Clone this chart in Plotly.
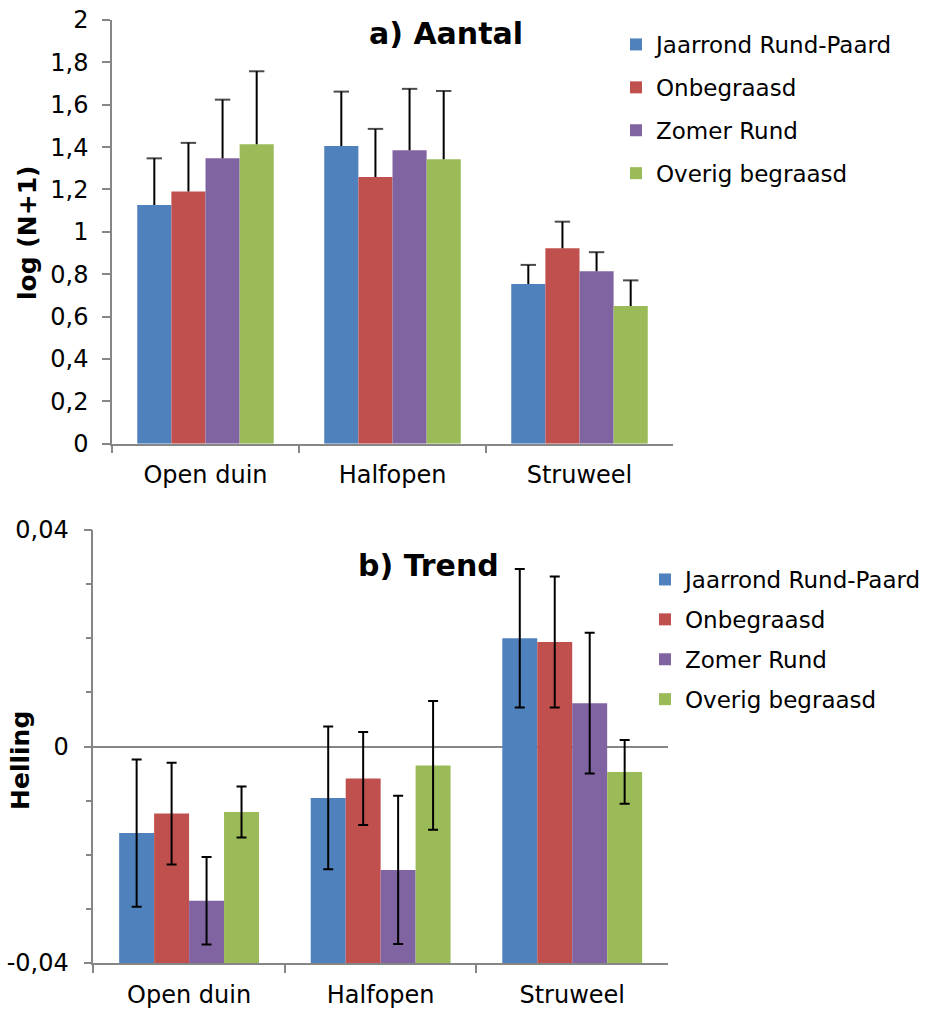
import plotly.graph_objects as go

categories = ["Open duin", "Halfopen", "Struweel"]
series = ["Jaarrond Rund-Paard", "Onbegraasd", "Zomer Rund", "Overig begraasd"]
colors = ["#4F81BD", "#C0504D", "#8064A2", "#9BBB59"]

# a) Aantal: log(N+1) and upper error
aantal = {
    "Jaarrond Rund-Paard": [1.127, 1.405, 0.754],
    "Onbegraasd": [1.19, 1.259, 0.923],
    "Zomer Rund": [1.347, 1.385, 0.814],
    "Overig begraasd": [1.413, 1.343, 0.650],
}
aantal_err = {
    "Jaarrond Rund-Paard": [0.22, 0.257, 0.09],
    "Onbegraasd": [0.23, 0.227, 0.125],
    "Zomer Rund": [0.277, 0.29, 0.09],
    "Overig begraasd": [0.345, 0.322, 0.121],
}

# b) Trend: helling and symmetric error
trend = {
    "Jaarrond Rund-Paard": [-0.016, -0.0095, 0.0200],
    "Onbegraasd": [-0.0124, -0.0059, 0.0193],
    "Zomer Rund": [-0.0285, -0.0228, 0.0080],
    "Overig begraasd": [-0.0121, -0.0035, -0.0047],
}
trend_err = {
    "Jaarrond Rund-Paard": [0.0136, 0.0132, 0.0128],
    "Onbegraasd": [0.0094, 0.0086, 0.0121],
    "Zomer Rund": [0.0081, 0.0137, 0.0130],
    "Overig begraasd": [0.0047, 0.0119, 0.0059],
}

y_ticks_a = [0, 0.2, 0.4, 0.6, 0.8, 1.0, 1.2, 1.4, 1.6, 1.8, 2.0]
y_ticks_b = [-0.04, 0, 0.04]
y_ticktext_b = ["-0,04", "0", "0,04"]
trend_base = -0.04  # horizontal axis crosses at the bottom of the range

W, H = 927, 1010
FONT = "DejaVu Sans, Verdana, sans-serif"
AX = "#868686"
GAP = 0.27

fig = go.Figure()
for i, s in enumerate(series):
    fig.add_trace(go.Bar(
        x=categories, y=aantal[s], name=s, marker_color=colors[i],
        marker_line_width=0, offsetgroup=str(i),
        xaxis="x", yaxis="y", legend="legend", legendgroup="a" + str(i),
    ))
# plus-only error bars for a): a line from bar top up to top+err with a cap
for i, s in enumerate(series):
    xs, ys, sizes = [], [], []
    for c, v, e in zip(categories, aantal[s], aantal_err[s]):
        xs += [c, c, None]
        ys += [v, v + e, None]
        sizes += [0, 11, 0]
    fig.add_trace(go.Scatter(
        x=xs, y=ys, mode="lines+markers", offsetgroup=str(i),
        line=dict(color="black", width=2),
        marker=dict(symbol="line-ew", size=sizes, color="black",
                    line=dict(color="black", width=2)),
        showlegend=False, hoverinfo="skip", xaxis="x", yaxis="y",
        connectgaps=False,
    ))
for i, s in enumerate(series):
    fig.add_trace(go.Bar(
        x=categories, y=[v - trend_base for v in trend[s]], base=trend_base,
        name=s, marker_color=colors[i], marker_line_width=0,
        error_y=dict(type="data", array=trend_err[s], color="black",
                     thickness=2, width=5),
        xaxis="x2", yaxis="y2", legend="legend2", legendgroup="b" + str(i),
    ))

def px_x(p):
    return p / W

def px_y(p):
    return 1 - p / H

axis_common = dict(showline=True, linecolor=AX, linewidth=1.5, ticks="outside",
                   tickcolor=AX, tickwidth=1.5, ticklen=8, automargin=False,
                   tickfont=dict(family=FONT, size=24, color="black"))

ann_common = dict(xref="paper", yref="paper", showarrow=False,
                  xanchor="center", yanchor="middle")

fig.update_layout(
    width=W, height=H, autosize=False,
    margin=dict(l=0, r=0, t=0, b=0, pad=0, autoexpand=False),
    paper_bgcolor="white", plot_bgcolor="white",
    separators=",.",
    barmode="group", bargap=GAP, bargroupgap=0,
    scattermode="group", scattergap=GAP,
    font=dict(family=FONT, color="black"),
    xaxis=dict(domain=[px_x(112), px_x(673)], anchor="y", type="category",
               tickson="boundaries", ticklabelstandoff=9, **axis_common),
    yaxis=dict(domain=[px_y(443.7), px_y(20)], anchor="x", range=[0, 2],
               tickvals=y_ticks_a, showgrid=False, zeroline=False,
               ticklabelstandoff=9, **axis_common),
    xaxis2=dict(domain=[px_x(93.3), px_x(668)], anchor="y2", type="category",
                tickson="boundaries", ticklabelstandoff=9, **axis_common),
    yaxis2=dict(domain=[px_y(963), px_y(530)], anchor="x2", range=[-0.04, 0.04],
                tickvals=y_ticks_b, ticktext=y_ticktext_b,
                showgrid=True, gridcolor=AX, gridwidth=1.5, zeroline=False,
                ticklabelstandoff=10,
                minor=dict(dtick=0.01, tick0=0, ticks="outside", ticklen=6,
                           tickcolor=AX, tickwidth=1.5, showgrid=False),
                **axis_common),
    legend=dict(x=px_x(616), y=px_y(23), xanchor="left", yanchor="top",
                font=dict(family=FONT, size=23, color="black"),
                tracegroupgap=10, traceorder="grouped", bgcolor="rgba(0,0,0,0)"),
    legend2=dict(x=px_x(645), y=px_y(558), xanchor="left", yanchor="top",
                 font=dict(family=FONT, size=23, color="black"),
                 tracegroupgap=7, traceorder="grouped", bgcolor="rgba(0,0,0,0)"),
    annotations=[
        dict(text="<b>a) Aantal</b>", x=px_x(446), y=px_y(33),
             font=dict(family=FONT, size=30, color="black"), **ann_common),
        dict(text="<b>b) Trend</b>", x=px_x(428), y=px_y(565),
             font=dict(family=FONT, size=30, color="black"), **ann_common),
        dict(text="<b>log (N+1)</b>", x=px_x(28), y=px_y(233), textangle=-90,
             font=dict(family=FONT, size=25, color="black"), **ann_common),
        dict(text="<b>Helling</b>", x=px_x(20), y=px_y(761), textangle=-90,
             font=dict(family=FONT, size=25, color="black"), **ann_common),
    ],
)

fig.write_html("out.html")
